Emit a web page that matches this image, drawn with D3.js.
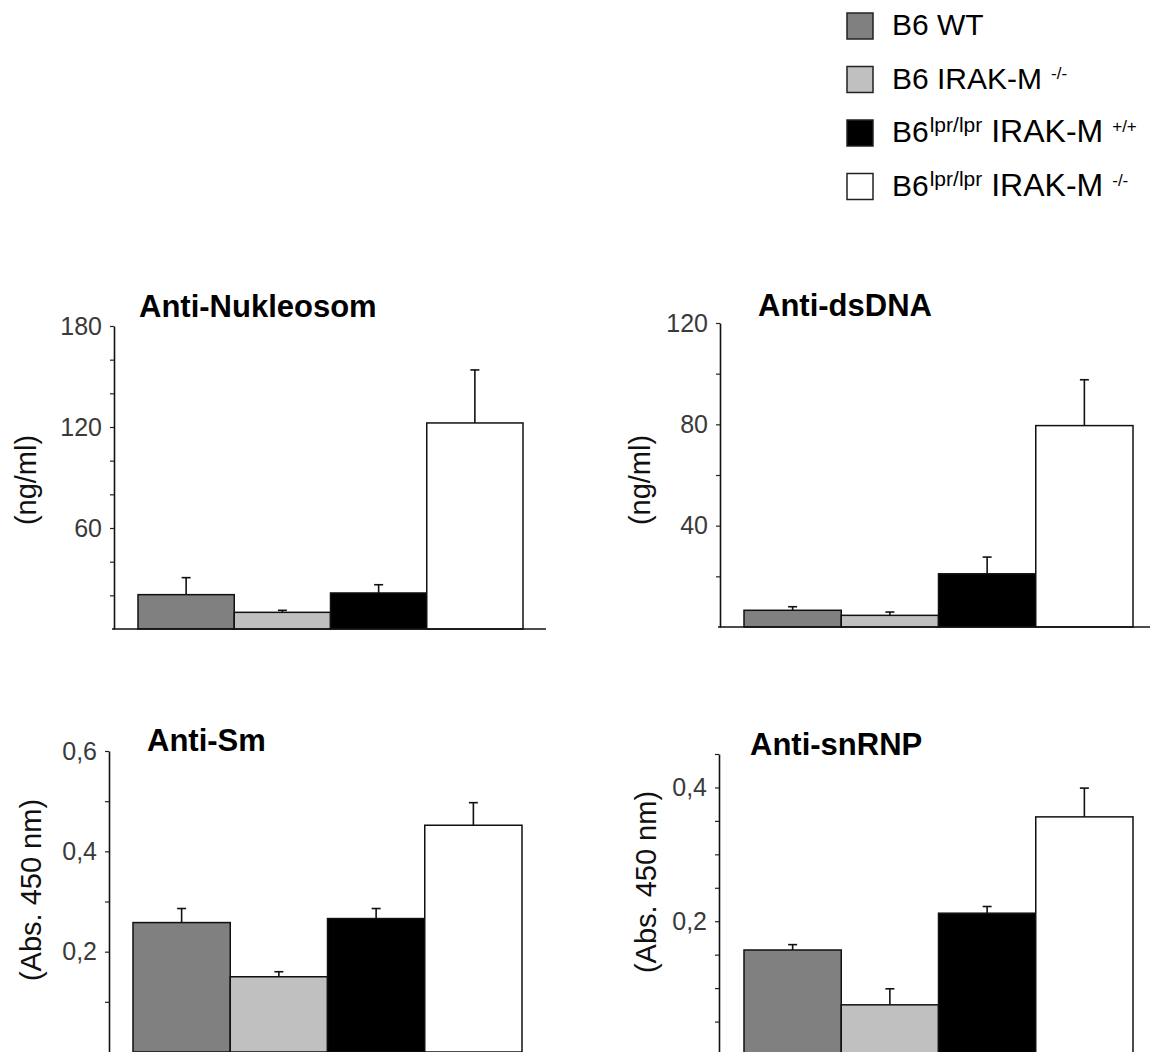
<!DOCTYPE html>
<html>
<head>
<meta charset="utf-8">
<script src="https://cdn.jsdelivr.net/npm/d3@7"></script>
<style>
  html, body { margin: 0; padding: 0; background: #fff; }
  svg { display: block; font-family: "Liberation Sans", Arial, sans-serif; }
</style>
</head>
<body>
<svg id="chart" width="1150" height="1052"></svg>
<script>
// groups and their fills
const groups = ["B6 WT", "B6 IRAK-M -/-", "B6lpr/lpr IRAK-M +/+", "B6lpr/lpr IRAK-M -/-"];
const fills = ["#808080", "#c0c0c0", "#000000", "#ffffff"];

// legend text pieces: [text, kind]
const legendParts = [
  [["B6 WT", "n"]],
  [["B6 IRAK-M", "n"], ["-/-", "sup"]],
  [["B6", "n"], ["lpr/lpr", "sup"], ["IRAK-M", "n"], ["+/+", "sup"]],
  [["B6", "n"], ["lpr/lpr", "sup"], ["IRAK-M", "n"], ["-/-", "sup"]]
];

// values (mean and error)
const nukleosomMean = [20.4, 9.9, 21.4, 122.4];
const nukleosomErr = [10.1, 1.2, 4.9, 31.5];
const dsdnaMean = [6.6, 4.6, 21.0, 79.5];
const dsdnaErr = [1.4, 1.3, 6.6, 18.1];
const smMean = [0.258, 0.150, 0.266, 0.452];
const smErr = [0.028, 0.010, 0.020, 0.045];
const snrnpMean = [0.157, 0.075, 0.212, 0.356];
const snrnpErr = [0.008, 0.024, 0.010, 0.043];

// ticks
const nukleosomTicks = [20, 40, 60, 80, 100, 120, 140, 160, 180];
const nukleosomLabels = [60, 120, 180];
const dsdnaTicks = [20, 40, 60, 80, 100, 120];
const dsdnaLabels = [40, 80, 120];
const smTicks = [0.1, 0.2, 0.3, 0.4, 0.5, 0.6];
const smLabels = [0.2, 0.4, 0.6];
const snrnpTicks = [0.05, 0.1, 0.15, 0.2, 0.25, 0.3, 0.35, 0.4, 0.45];
const snrnpLabels = [0.2, 0.4];

const deFormat = d3.formatLocale({ decimal: ",", thousands: ".", grouping: [3], currency: ["", "€"] });

const panels = [
  { title: "Anti-Nukleosom", unit: "(ng/ml)", mean: nukleosomMean, err: nukleosomErr,
    max: 180, ticks: nukleosomTicks, labels: nukleosomLabels, fmt: d3.format("d"),
    ax: 114, top: 326, bottom: 629, bars: [138, 523], lineEnd: 546, baseline: true,
    titleX: 139, titleY: 317, unitX: 36, unitY: 480 },
  { title: "Anti-dsDNA", unit: "(ng/ml)", mean: dsdnaMean, err: dsdnaErr,
    max: 120, ticks: dsdnaTicks, labels: dsdnaLabels, fmt: d3.format("d"),
    ax: 720, top: 323, bottom: 627, bars: [744, 1133], lineEnd: 1150, baseline: true,
    titleX: 758, titleY: 316, unitX: 650, unitY: 480 },
  { title: "Anti-Sm", unit: "(Abs. 450 nm)", mean: smMean, err: smErr,
    max: 0.6, ticks: smTicks, labels: smLabels, fmt: deFormat.format(".1f"),
    ax: 109, top: 751, bottom: 1052, bars: [133, 522], lineEnd: 522, baseline: false,
    titleX: 147, titleY: 751, unitX: 41, unitY: 890 },
  { title: "Anti-snRNP", unit: "(Abs. 450 nm)", mean: snrnpMean, err: snrnpErr,
    max: 0.45, ticks: snrnpTicks, labels: snrnpLabels, fmt: deFormat.format(".1f"),
    ax: 719, top: 754, bottom: 1055, bars: [744, 1133], lineEnd: 1133, baseline: false,
    titleX: 750, titleY: 755, unitX: 656, unitY: 882 }
];

const svg = d3.select("#chart");
svg.append("rect").attr("width", 1150).attr("height", 1052).attr("fill", "#fff");

panels.forEach((p) => {
  const g = svg.append("g");
  const y = d3.scaleLinear().domain([0, p.max]).range([p.bottom, p.top]);
  const x = d3.scaleBand().domain(groups).range(p.bars).paddingInner(0).paddingOuter(0);

  // bars
  g.selectAll("rect.bar")
    .data(groups)
    .enter()
    .append("rect")
    .attr("class", "bar")
    .attr("x", (d) => x(d))
    .attr("width", x.bandwidth())
    .attr("y", (d, i) => y(p.mean[i]))
    .attr("height", (d, i) => y(0) - y(p.mean[i]))
    .attr("fill", (d, i) => fills[i])
    .attr("stroke", "#111")
    .attr("stroke-width", 1.5);

  // error bars (upper only)
  const eb = g.selectAll("g.err").data(groups).enter().append("g").attr("class", "err")
    .attr("stroke", "#111").attr("stroke-width", 1.6);
  eb.append("line")
    .attr("x1", (d) => x(d) + x.bandwidth() / 2)
    .attr("x2", (d) => x(d) + x.bandwidth() / 2)
    .attr("y1", (d, i) => y(p.mean[i]))
    .attr("y2", (d, i) => y(p.mean[i] + p.err[i]));
  eb.append("line")
    .attr("x1", (d) => x(d) + x.bandwidth() / 2 - 4.5)
    .attr("x2", (d) => x(d) + x.bandwidth() / 2 + 4.5)
    .attr("y1", (d, i) => y(p.mean[i] + p.err[i]))
    .attr("y2", (d, i) => y(p.mean[i] + p.err[i]));

  // y axis
  const axis = d3.axisLeft(y)
    .tickValues(p.ticks)
    .tickSize(4)
    .tickSizeOuter(0)
    .tickPadding(8)
    .tickFormat((v) => (p.labels.some((l) => Math.abs(l - v) < 1e-9) ? p.fmt(v) : ""));
  const ag = g.append("g").attr("transform", `translate(${p.ax},0)`).call(axis);
  ag.select(".domain").attr("stroke", "#111").attr("stroke-width", 1.6);
  ag.selectAll(".tick line").attr("stroke", "#222").attr("stroke-width", 1.2);
  ag.selectAll(".tick text")
    .attr("fill", "#3a3a3a")
    .attr("font-size", 25)
    .attr("font-family", "'Liberation Sans', Arial, sans-serif");

  // baseline
  if (p.baseline) {
    g.append("line")
      .attr("x1", p.ax - 2).attr("x2", p.lineEnd)
      .attr("y1", y(0)).attr("y2", y(0))
      .attr("stroke", "#111").attr("stroke-width", 1.6);
  }

  // title
  g.append("text")
    .attr("x", p.titleX).attr("y", p.titleY)
    .attr("font-size", 31).attr("font-weight", "bold").attr("fill", "#000")
    .text(p.title);

  // unit label
  g.append("text")
    .attr("transform", `translate(${p.unitX},${p.unitY}) rotate(-90)`)
    .attr("text-anchor", "middle")
    .attr("font-size", 29).attr("fill", "#111")
    .text(p.unit);
});

// legend
const legend = svg.append("g").attr("transform", "translate(847,13)");
const row = legend.selectAll("g").data(groups).enter().append("g")
  .attr("transform", (d, i) => `translate(0,${i * 53.5})`);
row.append("rect")
  .attr("width", 26).attr("height", 26)
  .attr("fill", (d, i) => fills[i])
  .attr("stroke", "#222").attr("stroke-width", 1.5);
row.each(function (d, i) {
  const t = d3.select(this).append("text").attr("x", 45).attr("y", 22).attr("fill", "#000");
  let raised = false;
  legendParts[i].forEach(([txt, kind], k) => {
    const ts = t.append("tspan").text(txt);
    if (kind === "sup") {
      ts.attr("font-size", txt === "lpr/lpr" ? 21 : 17)
        .attr("dx", txt === "lpr/lpr" ? 1 : 9)
        .attr("dy", raised ? 0 : -10);
      raised = true;
    } else {
      ts.attr("font-size", k === 0 ? 30 : 32).attr("dx", k === 0 ? 0 : 9).attr("dy", raised ? 10 : 0);
      raised = false;
    }
  });
});
</script>
</body>
</html>
